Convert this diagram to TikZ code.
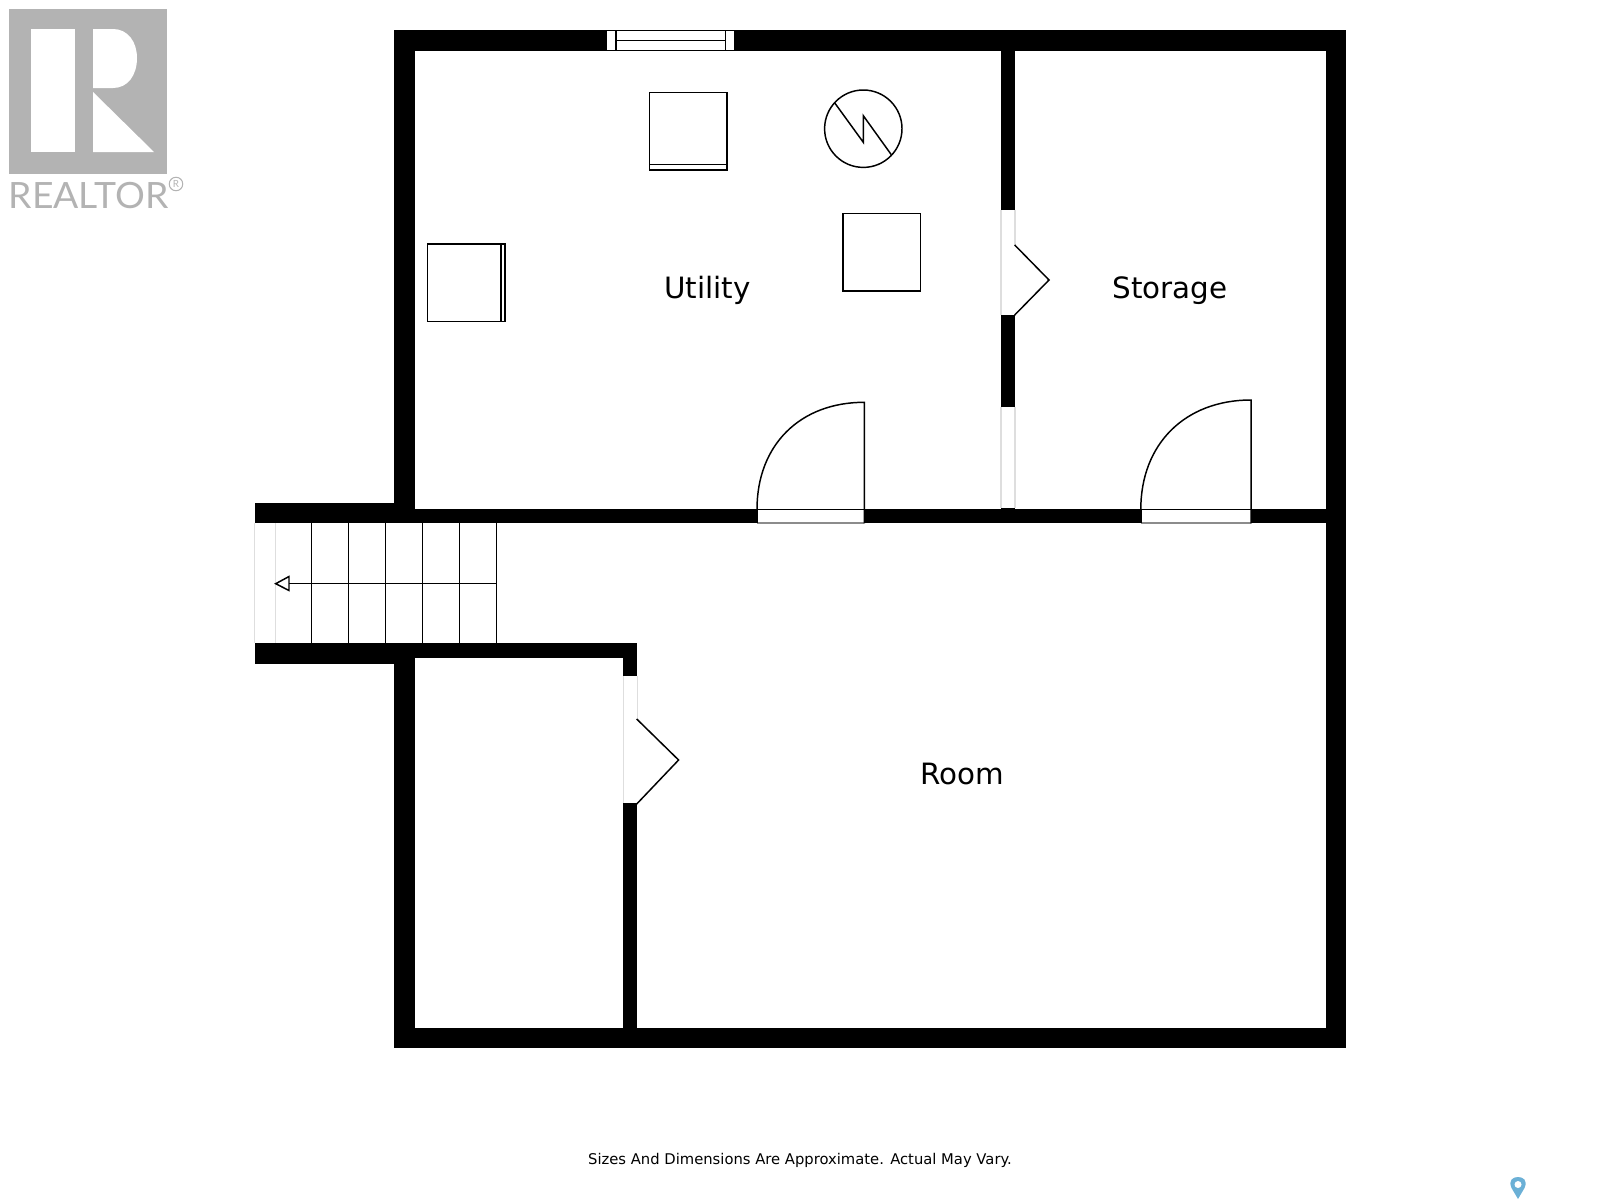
\documentclass[tikz,border=0pt]{standalone}
\usepackage{fontspec}
\setmainfont{DejaVu Sans}
\newfontfamily\logofont{Lato}
\definecolor{logogray}{HTML}{B3B3B3}
\definecolor{gapgray}{HTML}{DEDEDE}
\definecolor{pinblue}{HTML}{6BB0D6}
\tikzset{
    wallfill/.style={fill=black, draw=none},
    plan/.style={line width=0.42pt, black},
    gapline/.style={line width=0.3pt, gapgray},
    doorsill/.style={line width=0.35pt, black!45},
    roomlabel/.style={font=\fontsize{8.35}{10}\selectfont, inner sep=0pt, anchor=base}
}

\begin{document}
\begin{tikzpicture}[x=0.01cm, y=-0.01cm]
    \useasboundingbox (0,0) rectangle (1600,1200);

    % logo
    \fill[logogray] (9,9) rectangle (167,174);
    \fill[white] (31,29) rectangle (75,152);
    \fill[white] (93,29) -- (113,29) .. controls (128,29) and (137,42) .. (137,58)
        .. controls (137,75) and (128,88) .. (113,88) -- (93,88) -- cycle;
    \fill[white] (93,92) -- (154,152) -- (93,152) -- cycle;
    \node[logogray, anchor=west, inner sep=0pt, xscale=1.03, font=\logofont\fontsize{10.3}{12}\selectfont] (realtor) at (8,196) {REALTOR};
    \node[draw=logogray, line width=0.3pt, circle, minimum size=13.5pt*0.2845, inner sep=0pt, logogray, font=\logofont\fontsize{2.8}{3}\selectfont] (registered) at (176,184) {R};

    % outer walls
    \fill[wallfill] (394,30) rectangle (606.7,51);
    \fill[wallfill] (734.3,30) rectangle (1346,51);
    \fill[wallfill] (394,30) rectangle (415,523.3);
    \fill[wallfill] (1325.6,30) rectangle (1346,1048);
    \fill[wallfill] (394,1028) rectangle (1346,1048);
    \fill[wallfill] (394,643.3) rectangle (415,1048);

    % stair walls
    \fill[wallfill] (254.7,502.7) rectangle (415,523.3);
    \fill[wallfill] (254.7,643.3) rectangle (415,664);
    \fill[wallfill] (415,643.3) rectangle (637.3,658);

    % inner walls
    \fill[wallfill] (415,509.3) rectangle (757,523.3);
    \fill[wallfill] (864.3,509.3) rectangle (1140.8,523.3);
    \fill[wallfill] (1251,509.3) rectangle (1325.6,523.3);
    \fill[wallfill] (1001,51) rectangle (1015,210);
    \fill[wallfill] (1001,315.3) rectangle (1015,407.3);
    \fill[wallfill] (1001,508.3) rectangle (1015,523.3);
    \fill[wallfill] (623.3,658) rectangle (637.3,676);
    \fill[wallfill] (623.3,803.3) rectangle (637.3,1028);

    % wall openings
    \draw[gapline] (1001,210) -- (1001,315.3);
    \draw[gapline] (1015,210) -- (1015,245);
    \draw[gapline] (1001,407.3) -- (1001,508.3);
    \draw[gapline] (1015,407.3) -- (1015,508.3);
    \draw[gapline] (623.3,676) -- (623.3,803.3);
    \draw[gapline] (637.3,676) -- (637.3,719);
    \draw[gapline] (254.7,523.3) -- (254.7,643.3);
    \draw[gapline] (275.7,523.3) -- (275.7,643.3);

    % window
    \draw[plan] (606.7,30.5) rectangle (734.3,50.5);
    \draw[plan] (616,30.5) -- (616,50.5);
    \draw[plan] (725.3,30.5) -- (725.3,50.5);
    \draw[plan] (616,40.7) -- (725.3,40.7);

    % equipment
    \draw[plan] (649.7,92.3) rectangle (727,170);
    \draw[plan] (649.7,164.3) -- (727,164.3);
    \draw[plan] (863.3,128.7) circle[radius=38.7];
    \draw[plan] (835,103.3) -- (863.3,142.3) -- (863.3,115.7) -- (891.3,154.7);
    \draw[plan] (842.9,213.3) rectangle (920.4,290.8);
    \draw[plan] (427.6,243.9) rectangle (505,321.4);
    \draw[plan] (501,243.9) -- (501,321.4);

    % doors
    \draw[doorsill] (757,523) -- (864.3,523);
    \draw[plan] (757,509.3) -- (864.3,509.3);
    \draw[plan] (757,509.3) -- (757,523.3);
    \draw[plan] (757,509.3) .. controls (757,445) and (800,402.3) .. (864.3,402.3) -- (864.3,523.3);
    \draw[doorsill] (1140.8,523) -- (1251,523);
    \draw[plan] (1140.8,509.3) -- (1251,509.3);
    \draw[plan] (1140.8,509.3) -- (1140.8,523.3);
    \draw[plan] (1140.8,509.3) .. controls (1140.8,444) and (1185,400) .. (1251,400) -- (1251,523.3);
    \draw[plan] (1014.7,245) -- (1049,280) -- (1014.7,315);
    \draw[plan] (636.7,719) -- (678.6,760) -- (636.7,804);

    % stairs
    \draw[plan] (311.7,523.3) -- (311.7,643.3);
    \draw[plan] (348.7,523.3) -- (348.7,643.3);
    \draw[plan] (385.7,523.3) -- (385.7,643.3);
    \draw[plan] (422.7,523.3) -- (422.7,643.3);
    \draw[plan] (459.7,523.3) -- (459.7,643.3);
    \draw[plan] (496.7,523.3) -- (496.7,643.3);
    \draw[plan] (496.7,583.7) -- (289,583.7);
    \draw[plan] (275.7,583.7) -- (289,576.5) -- (289,590.5) -- cycle;

    % labels
    \node[roomlabel] (utility) at (707.5,298) {Utility};
    \node[roomlabel] (storage) at (1170,298) {Storage};
    \node[roomlabel] (room) at (962,784) {Room};
    \node[font=\fontsize{4.2}{6}\selectfont, inner sep=0pt] (footer) at (800,1160.3) {Sizes And Dimensions Are Approximate. Actual May Vary.};

    % pin
    \fill[pinblue] (1518,1199) -- (1511.5,1188) .. controls (1508,1180) and (1513,1177) .. (1518,1177)
        .. controls (1523,1177) and (1528,1180) .. (1524.5,1188) -- cycle;
    \fill[white] (1518,1184.5) circle[radius=3.5];
\end{tikzpicture}
\end{document}
